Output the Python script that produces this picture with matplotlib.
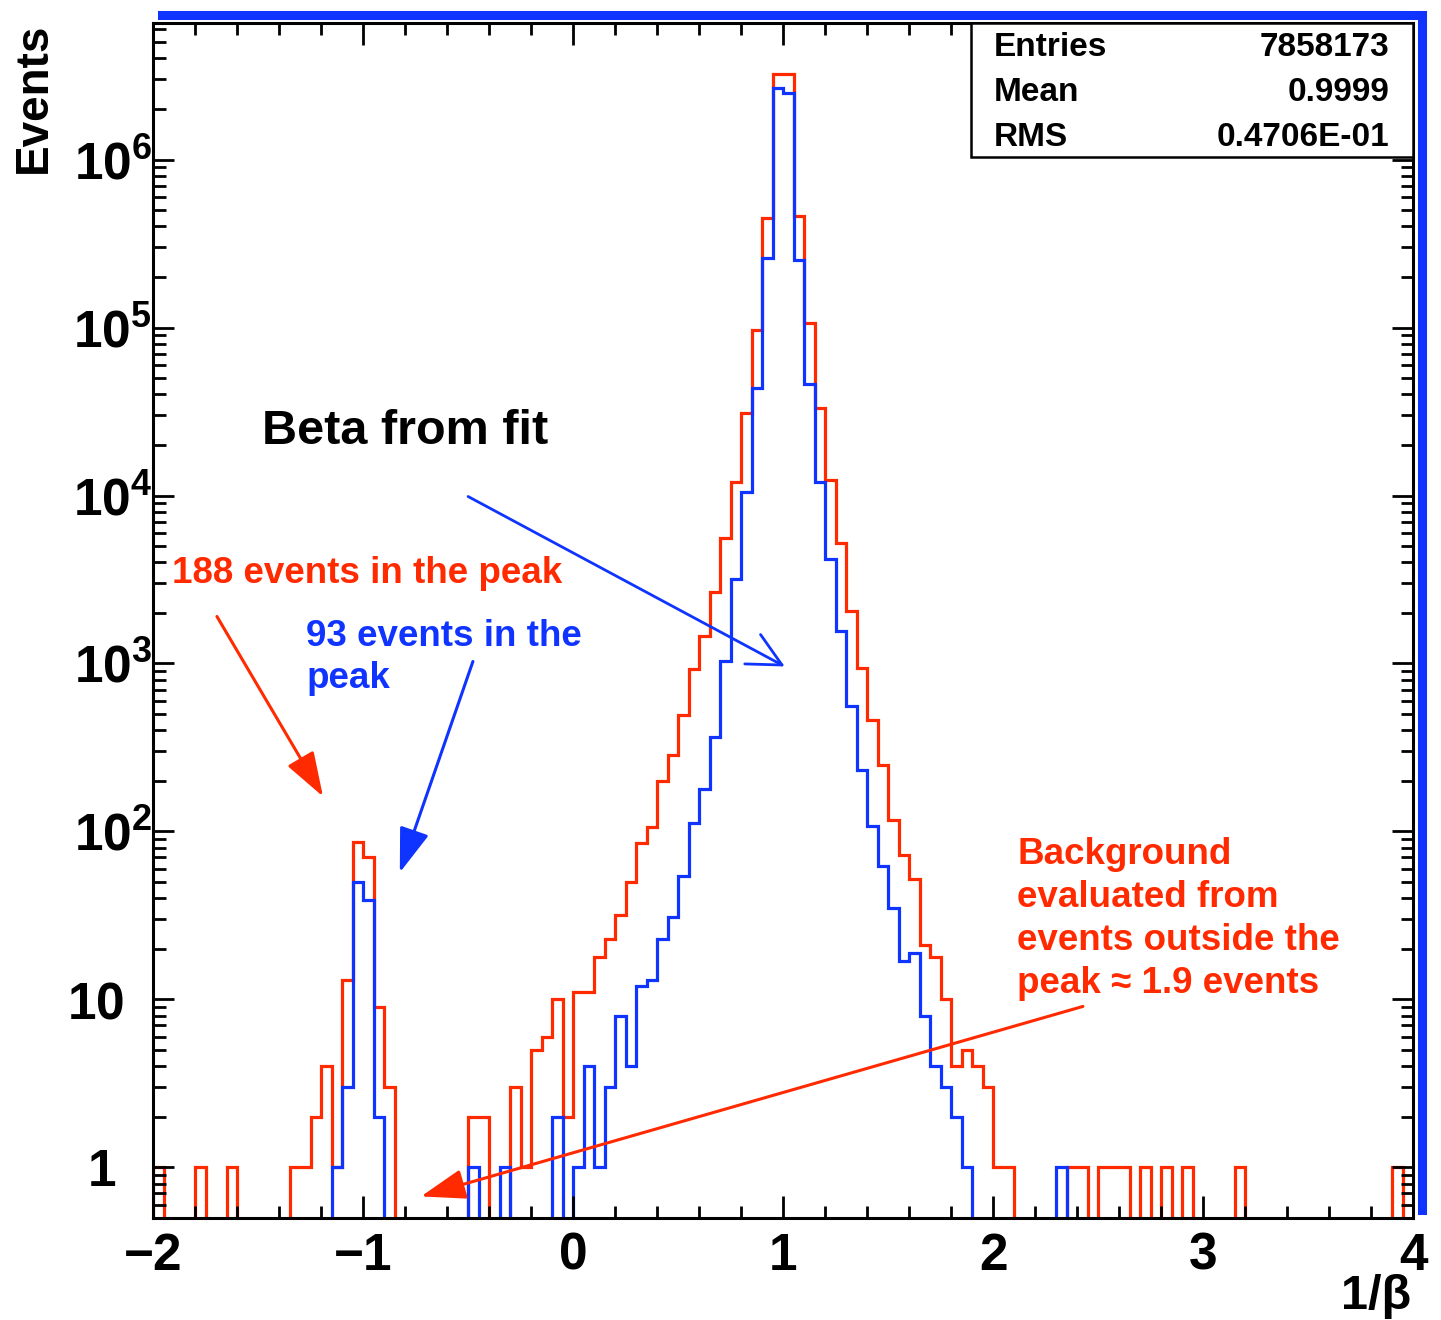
import numpy as np
import matplotlib
matplotlib.use('Agg')
import matplotlib.pyplot as plt
from matplotlib.patches import Rectangle
from matplotlib.ticker import MultipleLocator, LogLocator, FixedLocator, FuncFormatter, NullFormatter

plt.rcParams['font.family'] = ['Liberation Sans', 'DejaVu Sans']
plt.rcParams['mathtext.fontset'] = 'custom'
plt.rcParams['mathtext.rm'] = 'Liberation Sans'
plt.rcParams['mathtext.bf'] = 'Liberation Sans:bold'
plt.rcParams['mathtext.default'] = 'bf'

# 120 bins of 0.05 between -2 and 4 (1/beta)
edges = np.linspace(-2.0, 4.0, 121)

# counts per bin (10 bins per row)
red_counts = [
    1, 0, 0, 0, 1, 0, 0, 1, 0, 0,                      # -2.00 .. -1.55
    0, 0, 0, 1, 1, 2, 4, 1, 13, 87,                    # -1.50 .. -1.05
    70, 9, 3, 0, 0, 0, 0, 0, 0, 0,                     # -1.00 .. -0.55
    2, 2, 0, 0, 3, 1, 5, 6, 10, 2,                     # -0.50 .. -0.05
    11, 11, 18, 23, 32, 50, 85, 106, 200, 286,         #  0.00 ..  0.45
    495, 932, 1453, 2673, 5600, 12000, 31000, 97300, 449700, 3250000,   # 0.50 .. 0.95
    3250000, 459900, 106700, 33270, 12450, 5180, 2049, 934, 464, 250,   # 1.00 .. 1.45
    117, 72, 52, 21, 18, 10, 4, 5, 4, 3,               #  1.50 ..  1.95
    1, 1, 0, 0, 0, 0, 0, 1, 1, 0,                      #  2.00 ..  2.45
    1, 1, 1, 0, 1, 0, 1, 0, 1, 0,                      #  2.50 ..  2.95
    0, 0, 0, 1, 0, 0, 0, 0, 0, 0,                      #  3.00 ..  3.45
    0, 0, 0, 0, 0, 0, 0, 0, 1, 0,                      #  3.50 ..  3.95
]
blue_counts = [
    0, 0, 0, 0, 0, 0, 0, 0, 0, 0,
    0, 0, 0, 0, 0, 0, 0, 1, 3, 50,
    39, 2, 0, 0, 0, 0, 0, 0, 0, 0,
    1, 0, 0, 1, 0, 0, 0, 0, 2, 0,
    1, 4, 1, 3, 8, 4, 12, 13, 23, 31,
    54, 112, 180, 366, 1030, 3206, 10470, 43750, 260000, 2670000,
    2500000, 251700, 46200, 12000, 4160, 1557, 557, 231, 108, 62,
    35, 17, 19, 8, 4, 3, 2, 1, 0, 0,
    0, 0, 0, 0, 0, 0, 1, 0, 0, 0,
    0, 0, 0, 0, 0, 0, 0, 0, 0, 0,
    0, 0, 0, 0, 0, 0, 0, 0, 0, 0,
    0, 0, 0, 0, 0, 0, 0, 0, 0, 0,
]

x_ticks = [-2, -1, 0, 1, 2, 3, 4]
y_ticks = [1, 10, 1e2, 1e3, 1e4, 1e5, 1e6]
stats_names = ['Entries', 'Mean', 'RMS']
stats_values = ['7858173', '0.9999', '0.4706E-01']

RED = '#ff2a00'
BLUE = '#1034ff'

fig = plt.figure(figsize=(14.41, 13.2), dpi=100)
W, H = 1441, 1320
rect = [153.3 / W, (H - 1218) / H, 1260 / W, 1195 / H]

# blue shadow frame (top and right) behind the main frame
shadow = fig.add_axes([rect[0] + 9 / W, rect[1] + 8 / H, rect[2], rect[3]], zorder=0)
shadow.set_xticks([])
shadow.set_yticks([])
shadow.patch.set_alpha(0)
for side in ['left', 'bottom']:
    shadow.spines[side].set_visible(False)
for side in ['top', 'right']:
    shadow.spines[side].set_color(BLUE)
    shadow.spines[side].set_linewidth(6.5)

ax = fig.add_axes(rect, zorder=1)
ax.patch.set_alpha(0)

ax.stairs(red_counts, edges, baseline=0, color=RED, lw=2.3, joinstyle='miter')
ax.stairs(blue_counts, edges, baseline=0, color=BLUE, lw=2.3, joinstyle='miter')

ax.set_yscale('log')
ax.set_xlim(-2, 4)
ax.set_ylim(0.5, 6.5e6)

ax.set_xticks(x_ticks)
ax.xaxis.set_minor_locator(MultipleLocator(0.2))
ax.yaxis.set_major_locator(FixedLocator(y_ticks))
ax.yaxis.set_minor_locator(LogLocator(base=10, subs=np.arange(2, 10), numticks=20))
ax.yaxis.set_minor_formatter(NullFormatter())


def ylab(v, pos):
    e = int(round(np.log10(v)))
    if e == 0:
        return '$1$'
    if e == 1:
        return '$10$'
    return r'$10^{%d}$' % e


ax.yaxis.set_major_formatter(FuncFormatter(ylab))

ax.tick_params(axis='both', which='both', direction='in', top=True, right=True, width=2)
ax.tick_params(axis='x', which='major', length=16, labelsize=37, pad=10)
ax.tick_params(axis='x', which='minor', length=8.5)
ax.tick_params(axis='y', which='major', length=15, labelsize=37, pad=1)
ax.tick_params(axis='y', which='minor', length=9)
for lab in ax.get_xticklabels() + ax.get_yticklabels():
    lab.set_fontweight('bold')
# "1" and "10" sit left, as if an exponent followed them
yt = ax.yaxis.get_major_ticks()
yt[0].set_pad(27)
yt[1].set_pad(21)
for side in ax.spines:
    ax.spines[side].set_linewidth(2.2)

ax.set_xlabel('1/β', fontsize=35, fontweight='bold', loc='right')
ax.xaxis.set_label_coords(0.998, -0.047)
ax.set_ylabel('Events', fontsize=33, fontweight='bold', loc='top')
ax.yaxis.set_label_coords(-0.077, 1.0)

# stats box
ax.add_patch(Rectangle((0.649, 0.888), 0.351, 0.112, transform=ax.transAxes,
                       facecolor='white', edgecolor='black', lw=1.8, zorder=5))
for i, (name, val) in enumerate(zip(stats_names, stats_values)):
    yy = 0.9796 - i * 0.0375
    ax.text(0.667, yy, name, transform=ax.transAxes, fontsize=24, fontweight='bold',
            ha='left', va='center', zorder=6)
    ax.text(0.981, yy, val, transform=ax.transAxes, fontsize=24, fontweight='bold',
            ha='right', va='center', zorder=6)

# annotations
ax.text(-1.481, 20130, 'Beta from fit', fontsize=35, fontweight='bold', ha='left', va='baseline')
ax.annotate('', xy=(1.007, 960), xytext=(-0.501, 9865),
            arrowprops=dict(arrowstyle='->, head_length=0.4, head_width=0.2', color=BLUE,
                            lw=2, mutation_scale=60, shrinkA=0, shrinkB=0))

ax.text(-1.910, 2994, '188 events in the peak', color=RED, fontsize=26.5, fontweight='bold',
        ha='left', va='baseline')
ax.annotate('', xy=(-1.192, 161.6), xytext=(-1.697, 1905),
            arrowprops=dict(arrowstyle='-|>, head_length=0.5, head_width=0.17', color=RED,
                            lw=2.2, mutation_scale=55, shrinkA=0, shrinkB=0))

ax.text(-1.272, 1828, '93 events in the\npeak', color=BLUE, fontsize=26.5, fontweight='bold',
        ha='left', va='top', linespacing=1.23)
ax.annotate('', xy=(-0.826, 57), xytext=(-0.478, 1028),
            arrowprops=dict(arrowstyle='-|>, head_length=0.5, head_width=0.17', color=BLUE,
                            lw=2.2, mutation_scale=55, shrinkA=0, shrinkB=0))

ax.text(2.114, 93, 'Background\nevaluated from\nevents outside the\npeak ≈ 1.9 events',
        color=RED, fontsize=26.5, fontweight='bold', ha='left', va='top', linespacing=1.3)
ax.annotate('', xy=(-0.725, 0.672), xytext=(2.427, 9.09),
            arrowprops=dict(arrowstyle='-|>, head_length=0.5, head_width=0.17', color=RED,
                            lw=2.2, mutation_scale=55, shrinkA=0, shrinkB=0))

fig.savefig('out.png', dpi=100)
